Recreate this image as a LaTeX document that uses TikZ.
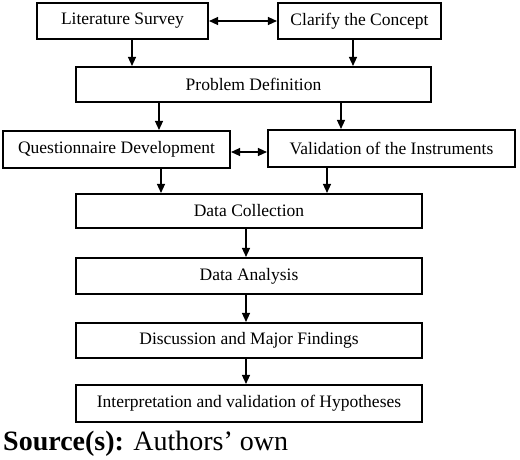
\documentclass[tikz,border=0pt]{standalone}
\usepackage{fontspec}
\setmainfont{Liberation Serif}
\usetikzlibrary{arrows.meta,calc}
\begin{document}
\begin{tikzpicture}[x=1pt,y=-1pt,
  box/.style={draw=black,line width=2.1pt,rectangle,inner sep=0pt,
    font=\fontsize{17.5}{20}\selectfont,text=black},
  arr/.style={line width=1.3pt,-{Triangle[length=9pt,width=8pt]}},
  darr/.style={line width=1.3pt,{Triangle[length=9pt,width=8pt]}-{Triangle[length=9pt,width=8pt]}}]
\useasboundingbox (0,0) rectangle (520,459);
\node[box,minimum width=171pt,minimum height=36pt] (lit) at (122.5,21) {Literature Survey};
\node[box,minimum width=163pt,minimum height=36pt] (clar) at (359.5,21) {Clarify the Concept};
\node[box,minimum width=355pt,minimum height=35pt] (prob) at (253.5,84.5) {Problem Definition};
\node[box,minimum width=227pt,minimum height=37pt] (ques) at (116.5,149.5) {Questionnaire Development};
\node[box,minimum width=247pt,minimum height=37pt] (val) at (391.5,148.5) {Validation of the Instruments};
\node[box,minimum width=346pt,minimum height=34pt] (dc) at (249,211) {Data Collection};
\node[box,minimum width=346pt,minimum height=36pt] (da) at (249,276) {Data Analysis};
\node[box,minimum width=346pt,minimum height=35pt] (disc) at (249,340.5) {Discussion and Major Findings};
\node[box,minimum width=346pt,minimum height=37pt] (interp) at (249,403.5) {Interpretation and validation of Hypotheses};
\node[anchor=base west,inner sep=0pt,font=\fontsize{28}{32}\selectfont] (src) at (3,450) {\textbf{Source(s):} Authors’ own};
\draw[darr] (lit.east) -- (clar.west);
\draw[darr] (ques.east |- 0,152) -- (val.west |- 0,152);
\draw[arr] (lit.south -| 132,0) -- (prob.north -| 132,0);
\draw[arr] (clar.south -| 353,0) -- (prob.north -| 353,0);
\draw[arr] (prob.south -| 159,0) -- (ques.north -| 159,0);
\draw[arr] (prob.south -| 341,0) -- (val.north -| 341,0);
\draw[arr] (ques.south -| 161,0) -- (dc.north -| 161,0);
\draw[arr] (val.south -| 327,0) -- (dc.north -| 327,0);
\draw[arr] (dc.south -| 246,0) -- (da.north -| 246,0);
\draw[arr] (da.south -| 246,0) -- (disc.north -| 246,0);
\draw[arr] (disc.south -| 246,0) -- (interp.north -| 246,0);
\end{tikzpicture}
\end{document}
